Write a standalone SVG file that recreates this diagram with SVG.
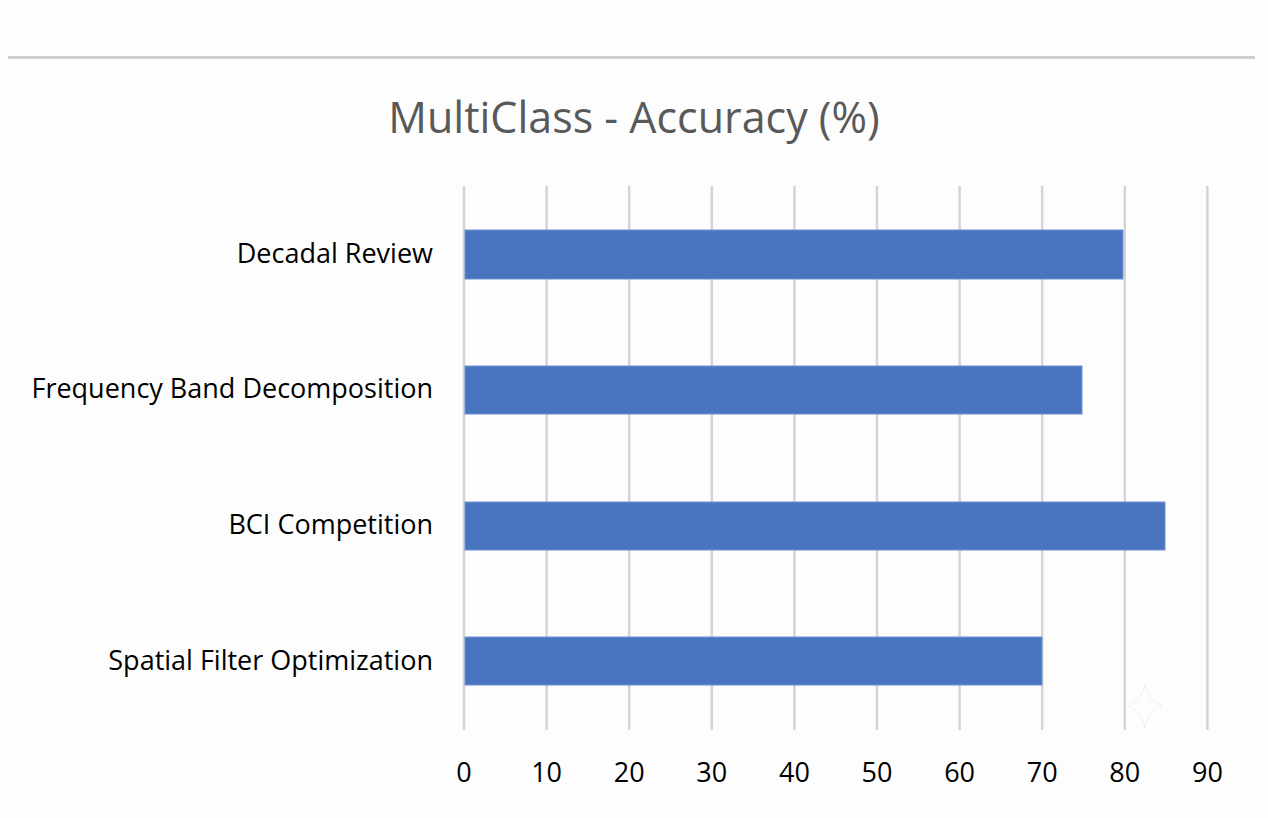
<svg xmlns="http://www.w3.org/2000/svg" width="1268" height="818" viewBox="0 0 1268 818">
<style>
.grid{stroke:#d4d4d4;stroke-width:2.5}
.bar{fill:#4874c0;stroke:#6f93d3;stroke-width:1}
.cat{font-family:"Open Sans","Noto Sans",sans-serif;font-size:27px;fill:#000;text-anchor:end}
.tick{font-family:"Open Sans","Noto Sans",sans-serif;font-size:27px;fill:#000;text-anchor:middle}
.title{font-family:"Open Sans","Noto Sans",sans-serif;font-size:43px;fill:#595959;text-anchor:middle}
</style>
<rect width="1268" height="818" fill="#fdfdfd"/>
<line x1="8" y1="57.5" x2="1255" y2="57.5" stroke="#cfcfcf" stroke-width="3"/>
<text class="title" x="634" y="133">MultiClass - Accuracy (%)</text>
<g id="gridlines">
<line class="grid" x1="464" y1="186" x2="464" y2="730"/>
<line class="grid" x1="546.6" y1="186" x2="546.6" y2="730"/>
<line class="grid" x1="629.2" y1="186" x2="629.2" y2="730"/>
<line class="grid" x1="711.8" y1="186" x2="711.8" y2="730"/>
<line class="grid" x1="794.4" y1="186" x2="794.4" y2="730"/>
<line class="grid" x1="877" y1="186" x2="877" y2="730"/>
<line class="grid" x1="959.6" y1="186" x2="959.6" y2="730"/>
<line class="grid" x1="1042.2" y1="186" x2="1042.2" y2="730"/>
<line class="grid" x1="1124.8" y1="186" x2="1124.8" y2="730"/>
<line class="grid" x1="1207.4" y1="186" x2="1207.4" y2="730"/>
</g>
<g id="bar-decadal-review">
<rect class="bar" x="465" y="230" width="658" height="49"/>
<text class="cat" x="433" y="263">Decadal Review</text>
</g>
<g id="bar-frequency-band-decomposition">
<rect class="bar" x="465" y="366" width="617" height="48"/>
<text class="cat" x="433" y="398">Frequency Band Decomposition</text>
</g>
<g id="bar-bci-competition">
<rect class="bar" x="465" y="502" width="700" height="48"/>
<text class="cat" x="433" y="534">BCI Competition</text>
</g>
<g id="bar-spatial-filter-optimization">
<rect class="bar" x="465" y="637" width="577" height="48"/>
<text class="cat" x="433" y="670">Spatial Filter Optimization</text>
</g>
<g id="x-axis-labels">
<text class="tick" x="464" y="782">0</text>
<text class="tick" x="546.6" y="782">10</text>
<text class="tick" x="629.2" y="782">20</text>
<text class="tick" x="711.8" y="782">30</text>
<text class="tick" x="794.4" y="782">40</text>
<text class="tick" x="877" y="782">50</text>
<text class="tick" x="959.6" y="782">60</text>
<text class="tick" x="1042.2" y="782">70</text>
<text class="tick" x="1124.8" y="782">80</text>
<text class="tick" x="1207.4" y="782">90</text>
</g>
<path d="M1145 684 Q1147 700 1162 706 Q1147 712 1145 728 Q1143 712 1128 706 Q1143 700 1145 684 Z" fill="none" stroke="#f0f0f0" stroke-width="1"/>
</svg>
